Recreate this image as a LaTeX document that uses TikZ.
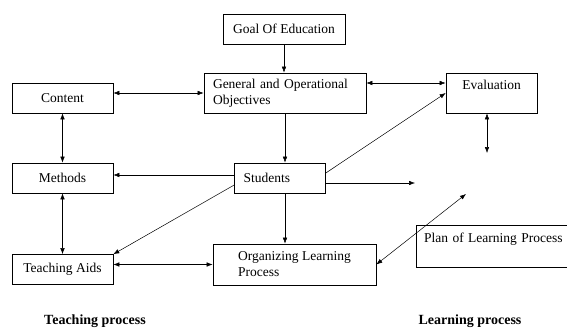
\documentclass[tikz,border=0pt]{standalone}
\usepackage{fontspec}
\setmainfont{Liberation Serif}
\usetikzlibrary{arrows.meta}

\tikzset{
	box/.style={draw, line width=0.6pt, inner sep=0pt, minimum height=30},
	link/.style={-{Latex[length=6pt,width=4.5pt]}, line width=0.5pt},
	both/.style={{Latex[length=6pt,width=4.5pt]}-{Latex[length=6pt,width=4.5pt]}, line width=0.5pt},
	caption/.style={font=\fontsize{14}{16}\selectfont\bfseries, anchor=base}
}

\begin{document}
\begin{tikzpicture}[x=1pt, y=-1pt, font=\fontsize{13.5}{16}\selectfont]
	\clip (0,0) rectangle (567,329);
	% teaching side
	\node[box, minimum width=122] (goal) at (284,29) {Goal Of Education};
	\node[box, minimum width=162, minimum height=40, text width=144, inner xsep=9, align=left] (gen) at (285,93) {General and Operational\\Objectives};
	\node[box, minimum width=101] (content) at (62.5,98) {Content};
	\node[box, minimum width=101] (methods) at (62.5,178) {Methods};
	\node[box, minimum width=101] (aids) at (62.5,269.5) {Teaching Aids};
	\node[box, minimum width=91, text width=73, inner xsep=9, align=left] (stud) at (280,178) {Students};
	\node[box, minimum width=163, minimum height=41, align=left] (org) at (294.5,264.5) {Organizing Learning\\Process};
	% learning side
	\node[box, minimum width=91, minimum height=40, align=center] (eval) at (491.5,93) {Evaluation\\\mbox{}};
	\node[box, minimum width=170, minimum height=42, text width=154, inner xsep=8, align=left] (plan) at (501,246) {Plan of Learning Process\\\mbox{}};
	\node[caption] (teach) at (95,324.5) {Teaching process};
	\node[caption] (learn) at (470,324.5) {Learning process};

	\coordinate (stud end) at (415,183);
	\coordinate (plan end) at (466,194);
	\coordinate (eval end) at (487,153);

	\draw[link] (goal.south) -- (goal.south |- gen.north);
	\draw[both] (gen.west -| content.east) -- (gen.west);
	\draw[both] ([yshift=10pt]gen.east) -- ([yshift=10pt]eval.west);
	\draw[both] (content.south) -- (methods.north);
	\draw[link] (gen.south) -- (gen.south |- stud.north);
	\draw[link] ([yshift=3pt]stud.west) -- ([yshift=3pt]stud.west -| methods.east);
	\draw[link] ([yshift=5pt]stud.east) -- (eval.west);
	\draw[link] ([yshift=-5pt]stud.east) -- (stud end);
	\draw[link] (gen.south |- stud.south) -- (gen.south |- org.north);
	\draw[link] ([yshift=-7pt]stud.west) -- (aids.north east);
	\draw[both] (methods.south) -- (aids.north);
	\draw[both] (org.west -| aids.east) -- (org.west);
	\draw[both] (org.east) -- (plan end);
	\draw[both] (eval end |- eval.south) -- (eval end);
\end{tikzpicture}
\end{document}
